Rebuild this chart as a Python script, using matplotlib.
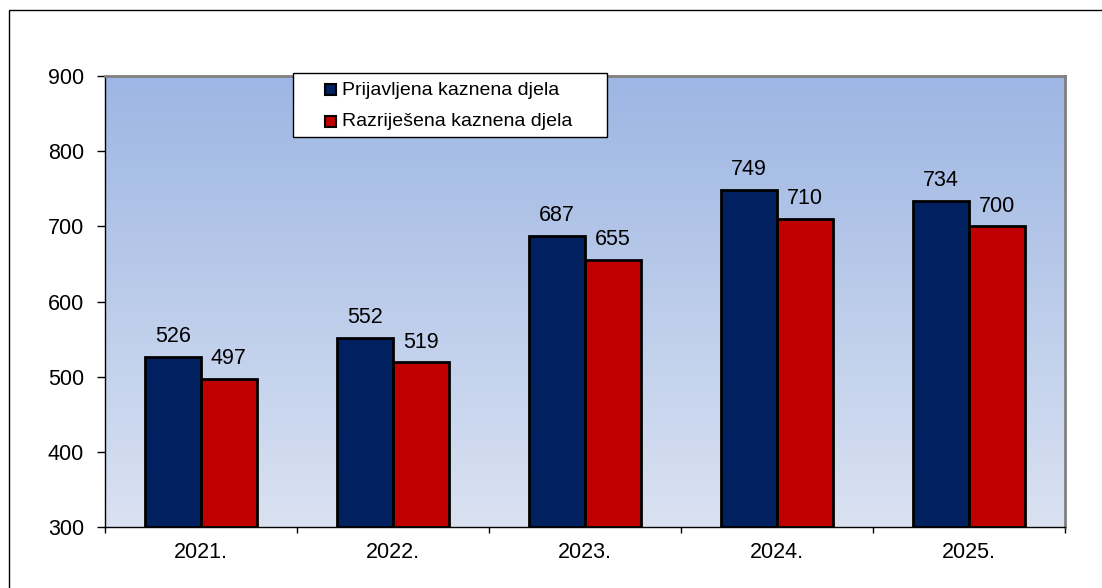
import matplotlib
matplotlib.use("Agg")
import matplotlib.pyplot as plt
import numpy as np
from matplotlib.colors import LinearSegmentedColormap
from matplotlib.patches import Rectangle

years = ["2021.", "2022.", "2023.", "2024.", "2025."]
prijavljena = [526, 552, 687, 749, 734]
razrijesena = [497, 519, 655, 710, 700]
series_names = ["Prijavljena kaznena djela", "Razriješena kaznena djela"]
series_colors = ['#002060', '#C00000']

plt.rcParams['font.family'] = ['Liberation Sans', 'DejaVu Sans']

W, H = 1102, 588
fig = plt.figure(figsize=(W/100, H/100), dpi=100)
ax = fig.add_axes([105/W, 1-527/H, 960/W, 451/H])

def fx(px):
    return px / W

def fy(py):
    return 1 - py / H

# outer frame (only left and top visible)
fig.patches.append(Rectangle((fx(9), -0.1), 1.2, fy(10) + 0.1, transform=fig.transFigure,
                             fill=False, edgecolor='black', linewidth=1.0))

x = np.arange(len(years))
w = 0.29
b1 = ax.bar(x - w/2, [v - 300 for v in prijavljena], w, bottom=300, color=series_colors[0],
            edgecolor='black', linewidth=2, zorder=3)
b2 = ax.bar(x + w/2, [v - 300 for v in razrijesena], w, bottom=300, color=series_colors[1],
            edgecolor='black', linewidth=2, zorder=3)

for xi, v in zip(x - w/2, prijavljena):
    ax.annotate(str(v), (xi, v), xytext=(0, 7), textcoords='offset points',
                ha='center', va='bottom', fontsize=15.5, zorder=4)
for xi, v in zip(x + w/2, razrijesena):
    ax.annotate(str(v), (xi, v), xytext=(0, 7), textcoords='offset points',
                ha='center', va='bottom', fontsize=15.5, zorder=4)

ax.set_xlim(-0.5, 4.5)
ax.set_ylim(300, 900)

# gradient background
cmap = LinearSegmentedColormap.from_list('bg', ['#DAE2F2', '#9DB6E3'])
grad = np.linspace(0, 1, 256).reshape(-1, 1)
ax.imshow(grad, aspect='auto', cmap=cmap, origin='lower',
          extent=(-0.5, 4.5, 300, 900), zorder=0)

ax.set_yticks([300, 400, 500, 600, 700, 800, 900])
ax.set_xticks(np.arange(-0.5, 5, 1))
ax.set_xticklabels([])
ax.set_xticks(x, minor=True)
ax.set_xticklabels(years, minor=True)
ax.tick_params(axis='x', which='minor', length=0, labelsize=15.5, pad=11)
ax.tick_params(axis='x', which='major', direction='out', length=4.5, width=1)
ax.tick_params(axis='y', direction='out', length=6, width=1, labelsize=15.5, pad=9)

for s in ['top', 'right']:
    ax.spines[s].set_color('#808080')
    ax.spines[s].set_linewidth(2)
for s in ['left', 'bottom']:
    ax.spines[s].set_color('black')
    ax.spines[s].set_linewidth(1)

# legend box (Excel style)
fig.patches.append(Rectangle((fx(293), fy(137)), fx(607) - fx(293), fy(73) - fy(137),
                             transform=fig.transFigure, facecolor='white',
                             edgecolor='black', linewidth=1.0, zorder=5))
for i, (name, col) in enumerate(zip(series_names, series_colors)):
    top = 84 + i * 32
    fig.patches.append(Rectangle((fx(325), fy(top + 11)), fx(11), 11/H,
                                 transform=fig.transFigure, facecolor=col,
                                 edgecolor='black', linewidth=1.5, zorder=6))
    fig.text(fx(342), fy(95 + i * 31), name, fontsize=14, ha='left',
             va='baseline', zorder=7)

fig.savefig('out.png', dpi=100)
